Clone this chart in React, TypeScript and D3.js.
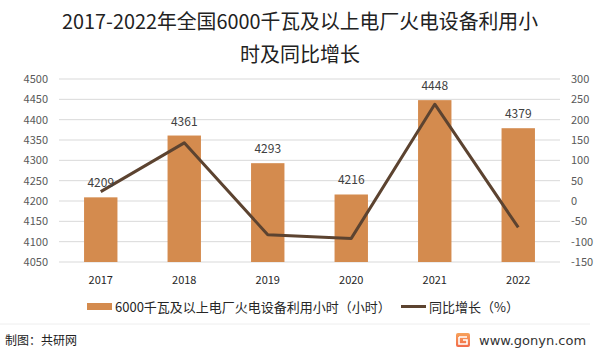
import React from "react";
import * as d3 from "d3";

const years = ["2017", "2018", "2019", "2020", "2021", "2022"];
const hours = [4209, 4361, 4293, 4216, 4448, 4379];
const growth = [23, 143, -83, -92, 238, -65];
const leftTicks = [4050, 4100, 4150, 4200, 4250, 4300, 4350, 4400, 4450, 4500];
const rightTicks = [-150, -100, -50, 0, 50, 100, 150, 200, 250, 300];
const titleLines = ["2017-2022年全国6000千瓦及以上电厂火电设备利用小", "时及同比增长"];
const legendBar = "6000千瓦及以上电厂火电设备利用小时（小时）";
const legendLine = "同比增长（%）";

const W = 600, H = 350;
const plot = { left: 59, right: 560, top: 79, bottom: 262 };
const barColor = "#D48B4E";
const lineColor = "#5C4330";
const font = "'Noto Sans CJK SC', 'Noto Sans', sans-serif";

export default function App() {
  const x = d3.scaleBand<string>().domain(years).range([plot.left, plot.right]).paddingInner(0.6).paddingOuter(0.3);
  const yL = d3.scaleLinear().domain([4050, 4500]).range([plot.bottom, plot.top]);
  const yR = d3.scaleLinear().domain([-150, 300]).range([plot.bottom, plot.top]);
  const line = d3.line<number>()
    .x((_, i) => (x(years[i]) as number) + x.bandwidth() / 2)
    .y((d) => yR(d));

  return (
    <svg width={W} height={H} style={{ position: "absolute", left: 0, top: 0, background: "#fff" }} fontFamily={font}>
      <rect x={0} y={0} width={W} height={H} fill="#fff" />
      {titleLines.map((t, i) => (
        <text key={i} x={300} y={29 + i * 33} textAnchor="middle" fontSize={20} fill="#222" textLength={i === 0 ? 476 : undefined} lengthAdjust="spacingAndGlyphs">{t}</text>
      ))}
      {leftTicks.map((t) => (
        <g key={t}>
          <line x1={plot.left} x2={plot.right} y1={yL(t)} y2={yL(t)} stroke="#d9d9d9" strokeWidth={1} />
          <text x={48} y={yL(t) + 4} textAnchor="end" fontSize={11} fill="#595959">{t}</text>
        </g>
      ))}
      {rightTicks.map((t) => (
        <text key={t} x={571} y={yR(t) + 4} textAnchor="start" fontSize={11} fill="#595959">{t}</text>
      ))}
      {hours.map((v, i) => (
        <rect key={i} x={x(years[i])} y={yL(v)} width={x.bandwidth()} height={plot.bottom - yL(v)} fill={barColor} />
      ))}
      <path d={line(growth) || ""} fill="none" stroke={lineColor} strokeWidth={3} strokeLinejoin="round" />
      {hours.map((v, i) => (
        <text key={i} x={(x(years[i]) as number) + x.bandwidth() / 2} y={yL(v) - 10} textAnchor="middle" fontSize={12} fill="#404040">{v}</text>
      ))}
      {years.map((y) => (
        <text key={y} x={(x(y) as number) + x.bandwidth() / 2} y={284} textAnchor="middle" fontSize={11} fill="#262626">{y}</text>
      ))}
      <rect x={87} y={303} width={25} height={7} fill={barColor} />
      <text x={115} y={312} fontSize={13} fill="#262626">{legendBar}</text>
      <line x1={401} x2={426} y1={306.5} y2={306.5} stroke={lineColor} strokeWidth={3} />
      <text x={429} y={312} fontSize={13} fill="#262626">{legendLine}</text>
      <line x1={0} x2={590} y1={324} y2={324} stroke="#eeeeee" strokeWidth={1} />
      <text x={5} y={345} fontSize={12} fill="#222">制图：共研网</text>
      <defs>
        <linearGradient id="lg" x1="0" y1="0" x2="0" y2="1">
          <stop offset="0" stopColor="#F7A25A" />
          <stop offset="1" stopColor="#F26B4A" />
        </linearGradient>
      </defs>
      <rect x={456} y={333} width={14} height={14} rx={2} fill="url(#lg)" />
      <path d="M459 337 H467 M459 337 V344 H467 V340 H463" stroke="#fff" strokeWidth={1.6} fill="none" />
      <text x={479} y={345} fontSize={13} fill="#333" fontFamily="'DejaVu Sans', sans-serif">www.gonyn.com</text>
    </svg>
  );
}
